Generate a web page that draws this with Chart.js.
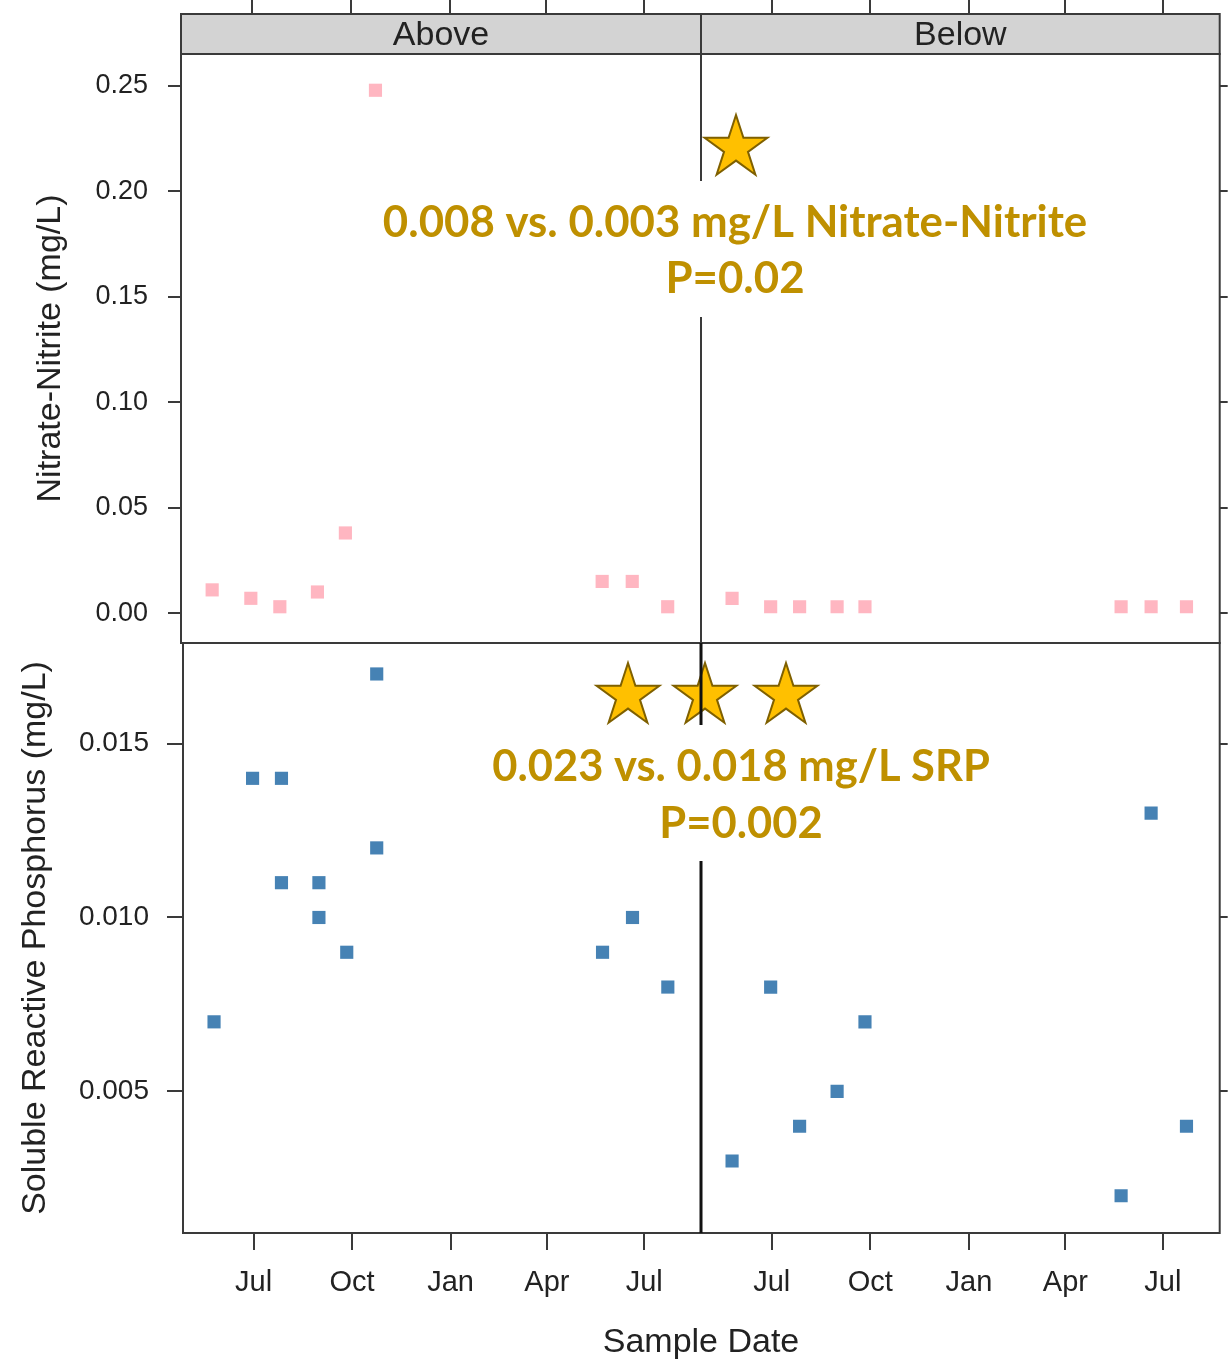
<!DOCTYPE html>
<html>
<head>
<meta charset="utf-8">
<title>Nitrate-Nitrite and SRP, Above vs Below</title>
<script src="https://cdn.jsdelivr.net/npm/chart.js@4.4.0/dist/chart.umd.min.js"></script>
<style>
  html, body { margin: 0; padding: 0; background: #fff; }
  #wrap { position: relative; width: 1229px; height: 1369px; overflow: hidden; background: #fff; }
  #wrap canvas { position: absolute; left: 0; top: 0; }
</style>
</head>
<body>
<div id="wrap">
  <canvas id="nitAbove" width="1229" height="1369"></canvas>
  <canvas id="nitBelow" width="1229" height="1369"></canvas>
  <canvas id="srpAbove" width="1229" height="1369"></canvas>
  <canvas id="srpBelow" width="1229" height="1369"></canvas>
</div>
<script>
(function () {
    'use strict';

    // ── Data ──────────────────────────────────────────────────────────────────
    var panelLabels = ['Above', 'Below'];

    var nitrateAboveDates  = ['2014-05-25', '2014-06-30', '2014-07-27', '2014-08-31', '2014-09-26',
                              '2014-10-24', '2015-05-23', '2015-06-20', '2015-07-23'];
    var nitrateAboveValues = [0.011, 0.007, 0.003, 0.010, 0.038, 0.248, 0.015, 0.015, 0.003];

    var nitrateBelowDates  = ['2014-05-25', '2014-06-30', '2014-07-27', '2014-08-31', '2014-09-26',
                              '2015-05-23', '2015-06-20', '2015-07-23'];
    var nitrateBelowValues = [0.007, 0.003, 0.003, 0.003, 0.003, 0.003, 0.003, 0.003];

    var srpAboveDates  = ['2014-05-25', '2014-06-30', '2014-07-27', '2014-07-27', '2014-08-31', '2014-08-31',
                          '2014-09-26', '2014-10-24', '2014-10-24', '2015-05-23', '2015-06-20', '2015-07-23'];
    var srpAboveValues = [0.007, 0.014, 0.014, 0.011, 0.011, 0.010, 0.009, 0.012, 0.017, 0.009, 0.010, 0.008];

    var srpBelowDates  = ['2014-05-25', '2014-06-30', '2014-07-27', '2014-08-31', '2014-09-26',
                          '2015-05-23', '2015-06-20', '2015-07-23'];
    var srpBelowValues = [0.003, 0.008, 0.004, 0.005, 0.007, 0.002, 0.013, 0.004];

    var dateRange       = ['2014-04-26', '2015-08-23'];
    var monthTickDates  = ['2014-07-01', '2014-10-01', '2015-01-01', '2015-04-01', '2015-07-01'];
    var monthTickLabels = ['Jul', 'Oct', 'Jan', 'Apr', 'Jul'];

    var nitrateRange      = [-0.0142, 0.2652];
    var nitrateTicks      = [0, 0.05, 0.10, 0.15, 0.20, 0.25];
    var nitrateTickLabels = ['0.00', '0.05', '0.10', '0.15', '0.20', '0.25'];

    var srpRange      = [0.00093, 0.01789];
    var srpTicks      = [0.005, 0.010, 0.015];
    var srpTickLabels = ['0.005', '0.010', '0.015'];

    var nitrateNote = ['0.008 vs. 0.003 mg/L Nitrate-Nitrite', 'P=0.02'];
    var srpNote     = ['0.023 vs. 0.018 mg/L SRP', 'P=0.002'];

    // ── Page layout ───────────────────────────────────────────────────────────
    var W = 1229, H = 1369;
    var SANS = "'Liberation Sans', Arial, Helvetica, sans-serif";
    var NOTE_FONT = "Lato, 'Open Sans', 'Noto Sans', sans-serif";
    var INK = '#222', FRAME = '#3a3a3a', GOLD = '#BF9000';

    Chart.defaults.font.family = SANS;

    function day(s) {
        var p = s.split('-');
        return Date.UTC(+p[0], +p[1] - 1, +p[2]) / 864e5;
    }

    function points(dates, values) {
        return dates.map(function (d, i) { return { x: day(d), y: values[i] }; });
    }

    function star(ctx, cx, cy, R) {
        var r = R * 0.382;
        ctx.beginPath();
        for (var i = 0; i < 10; i++) {
            var a = -Math.PI / 2 + i * Math.PI / 5;
            var rad = i % 2 ? r : R;
            ctx.lineTo(cx + rad * Math.cos(a), cy + rad * Math.sin(a));
        }
        ctx.closePath();
        ctx.fillStyle = '#FFC000';
        ctx.fill();
        ctx.lineWidth = 2;
        ctx.strokeStyle = '#7F6000';
        ctx.stroke();
    }

    function drawNote(ctx, lines, cx, baselines, width, box) {
        ctx.save();
        ctx.fillStyle = '#fff';
        ctx.fillRect(box[0], box[1], box[2], box[3]);
        ctx.font = 'bold 40px ' + NOTE_FONT;
        var size = 40 * width / ctx.measureText(lines[0]).width;
        ctx.font = 'bold ' + size.toFixed(1) + 'px ' + NOTE_FONT;
        ctx.fillStyle = GOLD;
        ctx.textAlign = 'center';
        ctx.textBaseline = 'alphabetic';
        lines.forEach(function (t, i) { ctx.fillText(t, cx, baselines[i]); });
        ctx.restore();
    }

    // frame and (top row) strip for one panel
    function framePlugin(cfg) {
        return {
            id: 'frame',
            afterDraw: function (chart) {
                var ctx = chart.ctx, a = chart.chartArea;
                ctx.save();
                ctx.lineWidth = 2;
                ctx.strokeStyle = FRAME;
                ctx.strokeRect(a.left, a.top, a.right - a.left, a.bottom - a.top);
                if (cfg.strip) {
                    ctx.fillStyle = '#D3D3D3';
                    ctx.fillRect(a.left, 14, a.right - a.left, a.top - 14);
                    ctx.strokeRect(a.left, 14, a.right - a.left, a.top - 14);
                    ctx.fillStyle = INK;
                    ctx.font = '34px ' + SANS;
                    ctx.textAlign = 'center';
                    ctx.textBaseline = 'middle';
                    ctx.fillText(cfg.strip, (a.left + a.right) / 2, 36);
                }
                ctx.restore();
            }
        };
    }

    // annotations drawn last, over everything
    var overlayPlugin = {
        id: 'overlay',
        afterDraw: function (chart) {
            var ctx = chart.ctx;
            drawNote(ctx, nitrateNote, 735, [237, 293], 705, [376, 181, 718, 136]);
            drawNote(ctx, srpNote, 741, [781, 838], 498, [482, 725, 518, 136]);

            star(ctx, 736, 148, 33);
            star(ctx, 628, 696, 33);
            star(ctx, 705, 696, 33);
            star(ctx, 786, 696, 33);

            // thick divider in the lower row, broken by the note
            ctx.save();
            ctx.strokeStyle = '#111';
            ctx.lineWidth = 3;
            ctx.beginPath();
            ctx.moveTo(701, 643); ctx.lineTo(701, 725);
            ctx.moveTo(701, 861); ctx.lineTo(701, 1233);
            ctx.stroke();

            ctx.fillStyle = INK;
            ctx.font = '34px ' + SANS;
            ctx.textAlign = 'center';
            ctx.textBaseline = 'alphabetic';
            ctx.fillText('Sample Date', 701, 1352);
            ctx.restore();
        }
    };

    function makePanel(id, cfg) {
        var b = cfg.box;
        var top = cfg.row === 'top';
        var scales = {
            x: {
                type: 'linear',
                position: top ? 'top' : 'bottom',
                min: day(dateRange[0]),
                max: day(dateRange[1]),
                afterBuildTicks: function (s) {
                    s.ticks = monthTickDates.map(function (d) { return { value: day(d) }; });
                },
                afterFit: function (s) { s.height = top ? b.t : H - b.b; },
                grid: { drawOnChartArea: false, tickLength: top ? b.t : 17, color: FRAME, lineWidth: 2 },
                border: { display: false },
                ticks: {
                    display: !top,
                    autoSkip: false,
                    maxRotation: 0,
                    padding: 16,
                    color: INK,
                    font: { size: 29 },
                    callback: function (v, i) { return monthTickLabels[i]; }
                }
            },
            y: {
                type: 'linear',
                position: 'left',
                display: cfg.left,
                min: cfg.yRange[0],
                max: cfg.yRange[1],
                afterBuildTicks: function (s) {
                    s.ticks = cfg.yTicks.map(function (v) { return { value: v }; });
                },
                grid: { drawOnChartArea: false, tickLength: cfg.tickLen, color: FRAME, lineWidth: 2 },
                border: { display: false },
                ticks: {
                    padding: cfg.tickPad,
                    color: INK,
                    font: { size: cfg.tickSize },
                    callback: function (v, i) { return cfg.yLabels[i]; }
                },
                title: {
                    display: cfg.left,
                    text: cfg.yTitle,
                    color: INK,
                    font: { size: 34 },
                    padding: { top: cfg.titlePad, bottom: 0 }
                }
            }
        };
        if (cfg.left) {
            scales.y.afterFit = function (s) { s.width = b.l; };
        }
        if (cfg.right) {
            scales.yR = {
                type: 'linear',
                position: 'right',
                min: cfg.yRange[0],
                max: cfg.yRange[1],
                afterBuildTicks: function (s) {
                    s.ticks = cfg.yTicks.map(function (v) { return { value: v }; });
                },
                afterFit: function (s) { s.width = W - b.r; },
                grid: { drawOnChartArea: false, tickLength: W - b.r, color: FRAME, lineWidth: 2 },
                border: { display: false },
                ticks: { display: false }
            };
        }

        var plugins = [framePlugin({ strip: cfg.strip })];
        if (cfg.overlay) plugins.push(overlayPlugin);

        return new Chart(document.getElementById(id), {
            type: 'scatter',
            data: {
                datasets: [{
                    data: cfg.data,
                    backgroundColor: cfg.color,
                    borderWidth: 0,
                    pointStyle: 'rect',
                    pointRadius: 9.3
                }]
            },
            options: {
                responsive: false,
                animation: false,
                devicePixelRatio: 1,
                events: [],
                layout: {
                    padding: {
                        left: cfg.left ? 0 : b.l,
                        right: cfg.right ? 0 : W - b.r,
                        top: top ? 0 : b.t,
                        bottom: top ? H - b.b : 0
                    }
                },
                plugins: { legend: { display: false }, tooltip: { enabled: false } },
                scales: scales
            },
            plugins: plugins
        });
    }

    // ── Nitrate-Nitrite row ───────────────────────────────────────────────────
    makePanel('nitAbove', {
        row: 'top', left: true, right: false, strip: panelLabels[0],
        box: { l: 181, t: 54, r: 701, b: 643 },
        data: points(nitrateAboveDates, nitrateAboveValues), color: '#FFB6C1',
        yRange: nitrateRange, yTicks: nitrateTicks, yLabels: nitrateTickLabels,
        yTitle: 'Nitrate-Nitrite (mg/L)', tickLen: 13, tickPad: 20, tickSize: 27, titlePad: 30
    });
    makePanel('nitBelow', {
        row: 'top', left: false, right: true, strip: panelLabels[1],
        box: { l: 701, t: 54, r: 1221, b: 643 },
        data: points(nitrateBelowDates, nitrateBelowValues), color: '#FFB6C1',
        yRange: nitrateRange, yTicks: nitrateTicks, yLabels: nitrateTickLabels
    });

    // ── Soluble Reactive Phosphorus row ───────────────────────────────────────
    makePanel('srpAbove', {
        row: 'bottom', left: true, right: false,
        box: { l: 183, t: 643, r: 701, b: 1233 },
        data: points(srpAboveDates, srpAboveValues), color: '#4682B4',
        yRange: srpRange, yTicks: srpTicks, yLabels: srpTickLabels,
        yTitle: 'Soluble Reactive Phosphorus (mg/L)', tickLen: 16, tickPad: 18, tickSize: 28, titlePad: 15
    });
    makePanel('srpBelow', {
        row: 'bottom', left: false, right: true, overlay: true,
        box: { l: 701, t: 643, r: 1221, b: 1233 },
        data: points(srpBelowDates, srpBelowValues), color: '#4682B4',
        yRange: srpRange, yTicks: srpTicks, yLabels: srpTickLabels
    });

})();
</script>
</body>
</html>
